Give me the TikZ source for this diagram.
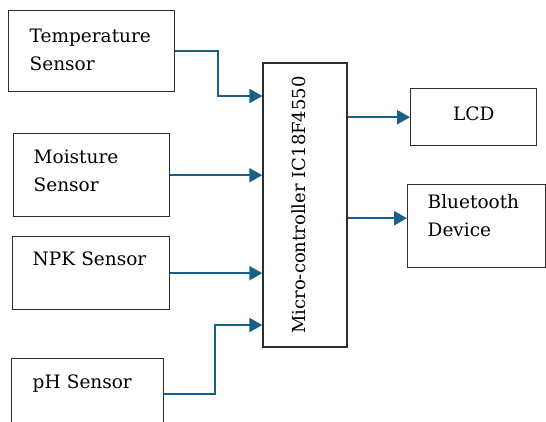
\documentclass[tikz,border=0pt]{standalone}
\usepackage{fontspec}
\setmainfont{DejaVu Serif}
\usepackage{tikz}
\definecolor{linkblue}{RGB}{26, 96, 134}
\definecolor{boxline}{RGB}{45, 45, 45}
\usetikzlibrary{arrows.meta, positioning, calc}

\begin{document}
\begin{tikzpicture}[
    x=1pt, y=-1pt,
    block/.style={draw=boxline, line width=1.4pt, anchor=north west, inner ysep=0pt,
                  inner xsep=20pt, align=left, font=\fontsize{18.5}{28}\selectfont},
    link/.style={draw=linkblue, line width=2.4pt, -{Triangle[length=13pt, width=14pt]}}
]
    \useasboundingbox (0,0) rectangle (546,421);

    % sensors on the left
    \node[block, inner xsep=21pt, text width=124pt, text height=32pt, text depth=49pt]
        (temp) at (8,10) {Temperature\\Sensor};
    \node[block, text width=116pt, text height=30pt, text depth=53pt]
        (moist) at (13,133) {Moisture\\Sensor};
    \node[block, text width=117pt, text height=29pt, text depth=44pt]
        (npk) at (12,236) {NPK Sensor};
    \node[block, inner xsep=21pt, text width=110pt, text height=30pt, text depth=40pt]
        (ph) at (11,358) {pH Sensor};

    % controller
    \node[draw=boxline, line width=1.4pt, rotate=90, minimum width=284pt, minimum height=84pt,
          inner sep=0pt, text height=12pt, text depth=12pt, font=\fontsize{18}{28}\selectfont]
        (micro) at (305,205) {Micro-controller IC18F4550};

    % outputs
    \node[block, inner xsep=0pt, align=center, text width=126pt, text height=32pt, text depth=25pt]
        (lcd) at (410,88) {LCD};
    \node[block, text width=98pt, text height=24pt, text depth=59pt]
        (bt) at (407,184) {Bluetooth\\Device};

    \coordinate (t1) at (218,96);
    \coordinate (p1) at (215,325);
    \coordinate (btin) at ([yshift=8pt]bt.west);

    \draw[link] (temp.east) -| (t1) -- (t1 -| micro.north);
    \draw[link] (moist.east) -- (moist.east -| micro.north);
    \draw[link] (npk.east) -- (npk.east -| micro.north);
    \draw[link] (ph.east) -| (p1) -- (p1 -| micro.north);
    \draw[link] (micro.south |- lcd.west) -- (lcd.west);
    \draw[link] (micro.south |- btin) -- (btin);
\end{tikzpicture}
\end{document}
